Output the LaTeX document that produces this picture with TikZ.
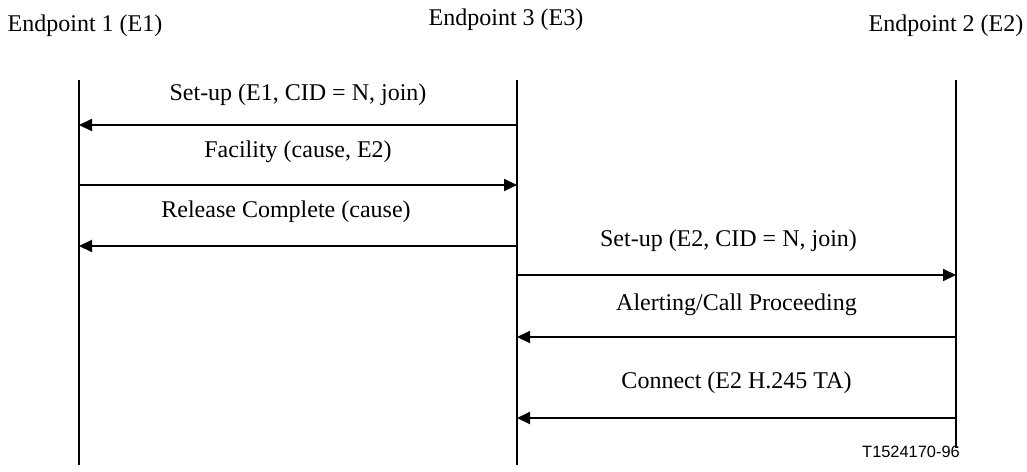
\documentclass[tikz,border=0pt]{standalone}
\usepackage{fontspec}
\setmainfont{Liberation Serif}
\newfontfamily\figsans{Liberation Sans}
\usetikzlibrary{arrows.meta}
\usetikzlibrary{positioning}
\tikzset{lifeline/.style = {line width=1pt}}
\tikzset{msg/.style = {line width=1pt, -{Triangle[length=6.5pt,width=6pt]}}}
\tikzset{msgtxt/.style = {font=\fontsize{12}{14}\selectfont, inner sep=0pt}}

\begin{document}
\begin{tikzpicture}[x=0.5pt, y=-0.5pt]
        \useasboundingbox (0,0) rectangle (1027,471);
        % endpoints
        \node [msgtxt] (ep1) at (85,26) {Endpoint 1 (E1)};
        \node [msgtxt] (ep3) at (506,20) {Endpoint 3 (E3)};
        \node [msgtxt] (ep2) at (946,26) {Endpoint 2 (E2)};
        \coordinate (e1top) at (79,80);   \coordinate (e1bot) at (79,465);
        \coordinate (e3top) at (517,80);  \coordinate (e3bot) at (517,465);
        \coordinate (e2top) at (956,80);  \coordinate (e2bot) at (956,448);
        \draw [lifeline] (e1top) -- (e1bot);
        \draw [lifeline] (e3top) -- (e3bot);
        \draw [lifeline] (e2top) -- (e2bot);
        % messages
        \coordinate (m1a) at (79,125);  \coordinate (m1b) at (517,125);
        \coordinate (m2a) at (79,185);  \coordinate (m2b) at (517,185);
        \coordinate (m3a) at (79,246);  \coordinate (m3b) at (517,246);
        \coordinate (m4a) at (517,275); \coordinate (m4b) at (956,275);
        \coordinate (m5a) at (517,337); \coordinate (m5b) at (956,337);
        \coordinate (m6a) at (517,418); \coordinate (m6b) at (956,418);
        \draw [msg] (m1b) -- (m1a) node [msgtxt, midway, yshift=15pt] (setup1) {Set-up (E1, CID = N, join)};
        \draw [msg] (m2a) -- (m2b) node [msgtxt, midway, yshift=16.5pt] (facility) {Facility (cause, E2)};
        \draw [msg] (m3b) -- (m3a) node [msgtxt, midway, yshift=17pt, xshift=-6pt] (relcomp) {Release Complete (cause)};
        \draw [msg] (m4a) -- (m4b) node [msgtxt, midway, yshift=17pt, xshift=-4pt] (setup2) {Set-up (E2, CID = N, join)};
        \draw [msg] (m5b) -- (m5a) node [msgtxt, midway, yshift=16pt] (alerting) {Alerting/Call Proceeding};
        \draw [msg] (m6b) -- (m6a) node [msgtxt, midway, yshift=17.5pt] (connect) {Connect (E2 H.245 TA)};
        \node [inner sep=0pt, font=\figsans\fontsize{8.2}{10}\selectfont] (figno) at (911,452) {T1524170-96};
    \end{tikzpicture}
\end{document}
